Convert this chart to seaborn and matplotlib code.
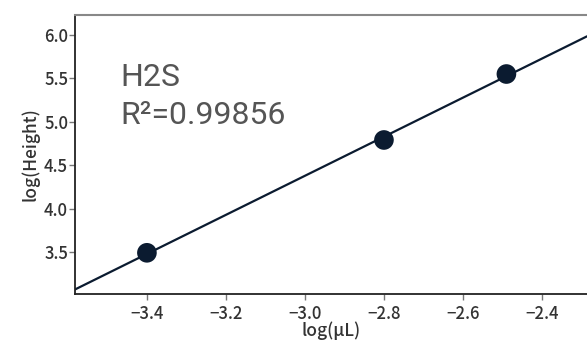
import numpy as np
import pandas as pd
import seaborn as sns
import matplotlib
matplotlib.use("Agg")
import matplotlib.pyplot as plt

log_uL = [-3.40, -2.80, -2.49]
log_height = [3.49, 4.79, 5.55]
x_ticks = [-3.4, -3.2, -3.0, -2.8, -2.6, -2.4]
y_ticks = [3.5, 4.0, 4.5, 5.0, 5.5, 6.0]
compound = "H2S"
r2_text = "R\u00b2=0.99856"

df = pd.DataFrame({"x": log_uL, "y": log_height})

sns.set_style("white")
plt.rcParams['font.family'] = ['Noto Sans CJK JP', 'DejaVu Sans']

fig = plt.figure(figsize=(5.87, 3.45), dpi=100)
ax = fig.add_axes([0.1278, 0.148, 0.8722, 0.8085])
xlim = (-3.582, -2.286)
ylim = (3.016, 6.23)
ax.set_xlim(*xlim)
ax.set_ylim(*ylim)

sns.regplot(data=df, x="x", y="y", ax=ax, ci=None, truncate=False,
            scatter_kws=dict(s=200, color="#0b1b30", alpha=1, zorder=3, edgecolor="none"),
            line_kws=dict(color="#0b1b30", lw=1.6))
ax.set_xlim(*xlim)
ax.set_ylim(*ylim)

ax.set_xticks(x_ticks)
ax.set_yticks(y_ticks)
ax.set_xticklabels([f"\u2212{abs(v):.1f}" for v in x_ticks])
ax.set_yticklabels([f"{v:.1f}" for v in y_ticks])
ax.tick_params(axis="both", direction="out", length=4, width=1, color="#777777",
               labelsize=12, labelcolor="#333333", bottom=True, left=True)
ax.tick_params(axis="x", pad=4)
ax.tick_params(axis="y", pad=1)
for lab in ax.get_xticklabels() + ax.get_yticklabels():
    lab.set_fontweight("medium")
ax.set_xlabel("log(\u03bcL)", fontsize=12.5, color="#333333", labelpad=-1, fontweight="medium")
ax.set_ylabel("log(Height)", fontsize=12.5, color="#333333", labelpad=3, fontweight="medium")

for s in ["left", "bottom"]:
    ax.spines[s].set_color("#222222")
    ax.spines[s].set_linewidth(1.3)
ax.spines["top"].set_color("#888888")
ax.spines["top"].set_linewidth(1.5)
ax.spines["right"].set_visible(False)

ax.text(0.088, 0.7455, compound, transform=ax.transAxes, fontsize=23,
        color="#555555", family=["Roboto", "DejaVu Sans"], fontweight="normal", va="baseline")
ax.text(0.088, 0.609, r2_text, transform=ax.transAxes, fontsize=23,
        color="#555555", family=["Roboto", "DejaVu Sans"], fontweight="normal", va="baseline")

fig.savefig("out.png", dpi=100)
